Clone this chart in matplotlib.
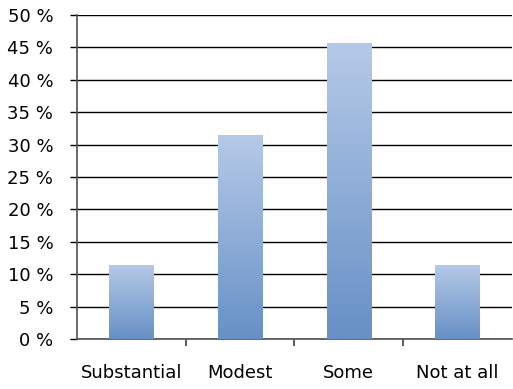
import matplotlib.pyplot as plt
import numpy as np
from matplotlib.colors import LinearSegmentedColormap
from matplotlib.ticker import FixedLocator

categories = ["Substantial", "Modest", "Some", "Not at all"]
shares = [11.43, 31.43, 45.71, 11.43]
y_ticks = [0, 5, 10, 15, 20, 25, 30, 35, 40, 45, 50]

fig = plt.figure(figsize=(5.13, 3.89), dpi=100)
ax = fig.add_axes([0.150, 0.1285, 0.848, 0.8329])

x = np.arange(len(categories))
bar_w = 0.41
bars = ax.bar(x, shares, width=bar_w, color="none", zorder=3)

# vertical gradient inside each bar: light on top, darker at the base
cmap = LinearSegmentedColormap.from_list("barfade", ["#6790c6", "#b5cae8"])
grad = np.linspace(0, 1, 256).reshape(-1, 1)
for b in bars:
    x0, y0 = b.get_x(), b.get_y()
    w, h = b.get_width(), b.get_height()
    im = ax.imshow(grad, cmap=cmap, origin="lower", aspect="auto",
                   extent=[x0, x0 + w, y0, y0 + h], zorder=3)
    im.set_clip_path(b)

ax.set_xlim(-0.5, len(categories) - 0.5)
ax.set_ylim(0, 50)
ax.set_yticks(y_ticks)
ax.set_yticklabels([f"{v} %" for v in y_ticks])
ax.yaxis.grid(True, color="black", linewidth=1.0, zorder=1)
ax.set_axisbelow(True)

ax.set_xticks(x)
ax.set_xticklabels(categories)
ax.xaxis.set_minor_locator(FixedLocator(np.arange(0.5, len(categories) - 0.5, 1.0)))
ax.tick_params(axis="x", which="major", length=0, pad=18, labelsize=13)
ax.tick_params(axis="x", which="minor", length=5, width=1.2, color="#404040", direction="out")
ax.tick_params(axis="y", length=5, width=1.0, color="black", labelsize=13, pad=12)

for side in ("top", "right"):
    ax.spines[side].set_visible(False)
ax.spines["left"].set_color("#505050")
ax.spines["left"].set_linewidth(1.2)
ax.spines["bottom"].set_color("#505050")
ax.spines["bottom"].set_linewidth(1.2)

fig.savefig("out.png", dpi=100)
